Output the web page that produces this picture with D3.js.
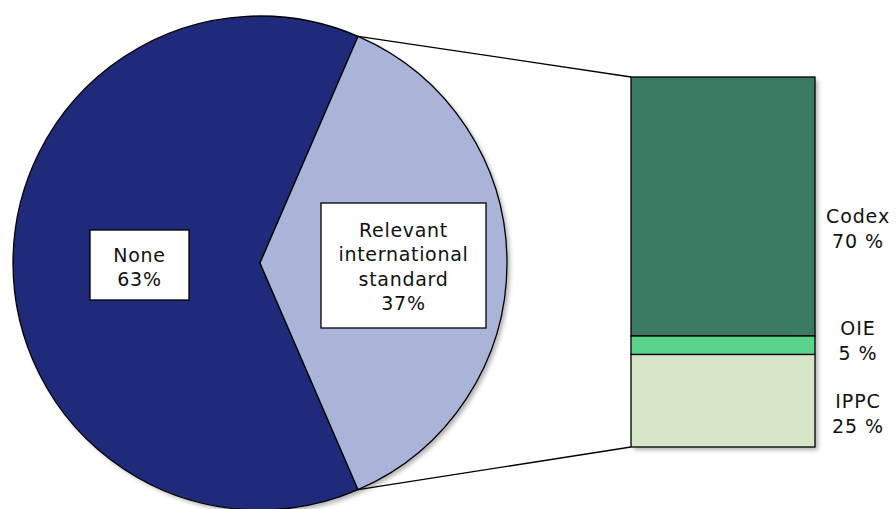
<!DOCTYPE html>
<html><head><meta charset="utf-8">
<script src="https://cdn.jsdelivr.net/npm/d3@7"></script>
<style>body{margin:0;background:#fff}</style>
</head><body>
<svg id="c" width="896" height="509"></svg>
<script>
const pieCategories = ["None", "Relevant international standard"];
const pieValues = [63, 37];
const pieLabels = [["None", "63%"], ["Relevant", "international", "standard", "37%"]];
const barCategories = ["Codex", "OIE", "IPPC"];
const barValues = [70, 5, 25];
const barLabels = [["Codex", "70 %"], ["OIE", "5 %"], ["IPPC", "25 %"]];

(function () {
const svg = d3.select("#c");
const defs = svg.append("defs");
const f = defs.append("filter").attr("id", "sh").attr("x", "-10%").attr("y", "-10%").attr("width", "130%").attr("height", "130%");
f.append("feDropShadow").attr("dx", 3).attr("dy", 3).attr("stdDeviation", 2).attr("flood-color", "#000").attr("flood-opacity", 0.3);

const font = "DejaVu Sans, Verdana, sans-serif";
const cx = 260, cy = 263, r = 247;
const pieColors = d3.scaleOrdinal().domain(pieCategories).range(["#1F2A7A", "#A9B4D8"]);

const half = pieValues[1] / 100 * Math.PI;
const pie = d3.pie().sort(null).value(d => d)
  .startAngle(Math.PI / 2 + half).endAngle(Math.PI / 2 + half + 2 * Math.PI);
const arcs = pie(pieValues);
const arc = d3.arc().innerRadius(0).outerRadius(r);

const g = svg.append("g").attr("transform", `translate(${cx},${cy})`);
g.append("circle").attr("r", r).attr("fill", "#fff").attr("filter", "url(#sh)");
g.selectAll("path.s").data(arcs).join("path")
  .attr("d", arc).attr("fill", (d, i) => pieColors(pieCategories[i]))
  .attr("stroke", "#000").attr("stroke-width", 1.3);

const bx = 631, bw = 184;
const y = d3.scaleLinear().domain([0, d3.sum(barValues)]).range([77, 447]);
const barColors = d3.scaleOrdinal().domain(barCategories).range(["#3A7A62", "#5CD38B", "#D5E5C6"]);
let cum = 0;
const stack = barValues.map(v => { const s = cum; cum += v; return [s, cum]; });
svg.append("rect").attr("x", bx).attr("y", y(0)).attr("width", bw).attr("height", y(cum) - y(0))
  .attr("fill", "#fff").attr("filter", "url(#sh)");
svg.selectAll("rect.b").data(stack).join("rect").attr("class", "b")
  .attr("x", bx).attr("y", d => y(d[0])).attr("width", bw).attr("height", d => y(d[1]) - y(d[0]))
  .attr("fill", (d, i) => barColors(barCategories[i])).attr("stroke", "#000").attr("stroke-width", 1.3);

const a0 = arcs[1].startAngle, a1 = arcs[1].endAngle;
const p0 = [cx + r * Math.sin(a0), cy - r * Math.cos(a0)];
const p1 = [cx + r * Math.sin(a1), cy - r * Math.cos(a1)];
const pTop = p0[1] < p1[1] ? p0 : p1, pBot = p0[1] < p1[1] ? p1 : p0;
svg.append("line").attr("x1", pTop[0]).attr("y1", pTop[1]).attr("x2", bx).attr("y2", y(0)).attr("stroke", "#000").attr("stroke-width", 1.3);
svg.append("line").attr("x1", pBot[0]).attr("y1", pBot[1]).attr("x2", bx).attr("y2", y(cum)).attr("stroke", "#000").attr("stroke-width", 1.3);

const boxes = [{x: 90, y: 230, w: 99, h: 70, tx: 139.5, ty: 262}, {x: 321, y: 203, w: 165, h: 125, tx: 403.5, ty: 237}];
boxes.forEach((b, i) => {
  svg.append("rect").attr("x", b.x).attr("y", b.y).attr("width", b.w).attr("height", b.h)
    .attr("fill", "#fff").attr("stroke", "#000").attr("stroke-width", 1.3);
  const t = svg.append("text").attr("font-family", font).attr("font-size", 19).attr("letter-spacing", 0.7).attr("fill", "#111").attr("text-anchor", "middle");
  pieLabels[i].forEach((s, j) => t.append("tspan").attr("x", b.tx).attr("y", b.ty + j * 24.3).text(s));
});

const barLabelY = [223, 335, 408];
barLabels.forEach((ls, i) => {
  const t = svg.append("text").attr("font-family", font).attr("font-size", 19).attr("letter-spacing", 0.9).attr("fill", "#111").attr("text-anchor", "middle");
  ls.forEach((s, j) => t.append("tspan").attr("x", 858).attr("y", barLabelY[i] + j * 24.5).text(s));
});
})();
</script>
</body></html>
